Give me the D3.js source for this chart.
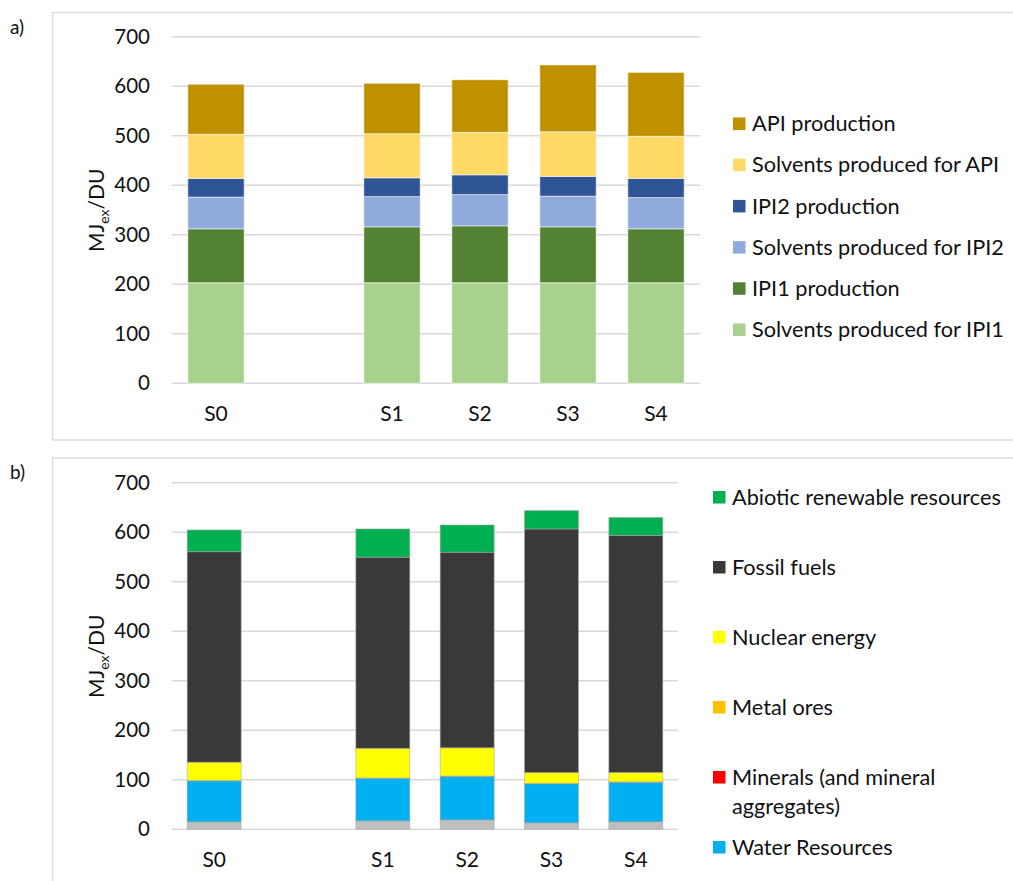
<!DOCTYPE html>
<html>
<head>
<meta charset="utf-8">
<script src="https://cdn.jsdelivr.net/npm/d3@7"></script>
<style>
  body { margin: 0; background: #fff; }
  svg { display: block; font-family: Lato, "Open Sans", sans-serif; }
</style>
</head>
<body>
<div id="chart"></div>
<script>
// scenarios, with an empty slot between S0 and S1
const scenarios = ["S0", "", "S1", "S2", "S3", "S4"];
const yTicks = [0, 100, 200, 300, 400, 500, 600, 700];

// panel a) stack order bottom -> top
const stageNames = [
  "Solvents produced for IPI1",
  "IPI1 production",
  "Solvents produced for IPI2",
  "IPI2 production",
  "Solvents produced for API",
  "API production"
];
const stageColors = ["#a9d18e", "#548235", "#8faadc", "#2f5597", "#ffd966", "#bf9000"];
const solventsIPI1 = [203, 0, 203, 203, 203, 203];
const prodIPI1     = [109, 0, 113, 115, 113, 109];
const solventsIPI2 = [64, 0, 61, 63, 62, 63];
const prodIPI2     = [38, 0, 38, 40, 40, 39];
const solventsAPI  = [89, 0, 89, 86, 90, 85];
const prodAPI      = [101, 0, 102, 106, 135, 129];

// panel b) stack order bottom -> top (grey bottom category has no visible legend entry)
const resourceNames = [
  "Land resources",
  "Water Resources",
  "Minerals (and mineral aggregates)",
  "Metal ores",
  "Nuclear energy",
  "Fossil fuels",
  "Abiotic renewable resources"
];
const resourceColors = ["#bfbfbf", "#00b0f0", "#ff0000", "#ffc000", "#ffff00", "#3b3838", "#00b050"];
const land      = [15, 0, 17, 19, 13, 15];
const water     = [83, 0, 86, 88, 79, 80];
const minerals  = [0.3, 0, 0.3, 0.3, 0.3, 0.4];
const metal     = [0.3, 0, 0.3, 0.3, 0.3, 0.4];
const nuclear   = [37, 0, 60, 57, 22, 19];
const fossil    = [425, 0, 386, 395, 492, 479];
const abiotic   = [44, 0, 57, 55, 37, 36];

// legend entries shown (top -> bottom)
const legendA = stageNames.slice().reverse();
const legendB = [
  ["Abiotic renewable resources"],
  ["Fossil fuels"],
  ["Nuclear energy"],
  ["Metal ores"],
  ["Minerals (and mineral", "aggregates)"],
  ["Water Resources"]
];

const width = 1013, height = 881;
const svg = d3.select("#chart").append("svg")
  .attr("width", width).attr("height", height);

const buildRows = (names, series) =>
  scenarios.map((s, i) => {
    const row = { scenario: s };
    names.forEach((n, k) => { row[n] = series[k][i]; });
    return row;
  });

const drawPanel = (opts) => {
  const g = svg.append("g");

  // panel frame
  g.append("rect")
    .attr("x", 52.5).attr("y", opts.frameTop)
    .attr("width", 1000).attr("height", opts.frameHeight)
    .attr("fill", "none").attr("stroke", "#d9d9d9").attr("stroke-width", 1.3);

  g.append("text")
    .attr("x", 10).attr("y", opts.frameTop + 21)
    .attr("font-size", 19).attr("fill", "#111")
    .text(opts.tag);

  const x = d3.scaleBand()
    .domain(scenarios)
    .range([172, opts.plotRight])
    .paddingInner(0.36)
    .paddingOuter(0.18);

  const y = d3.scaleLinear().domain([0, 700]).range([opts.y0, opts.y0 - 346.6]);

  // gridlines
  g.selectAll("line.grid")
    .data(yTicks)
    .join("line")
    .attr("class", "grid")
    .attr("x1", 172).attr("x2", opts.plotRight)
    .attr("y1", d => y(d)).attr("y2", d => y(d))
    .attr("stroke", "#d9d9d9").attr("stroke-width", 1.5);

  // y tick labels
  g.selectAll("text.ytick")
    .data(yTicks)
    .join("text")
    .attr("class", "ytick")
    .attr("x", 150).attr("y", d => y(d))
    .attr("dy", "0.35em")
    .attr("text-anchor", "end")
    .attr("font-size", 20.5).attr("fill", "#111")
    .text(d => d);

  // x labels
  g.selectAll("text.xtick")
    .data(scenarios.filter(s => s !== ""))
    .join("text")
    .attr("class", "xtick")
    .attr("x", d => x(d) + x.bandwidth() / 2)
    .attr("y", opts.y0 + 38)
    .attr("text-anchor", "middle")
    .attr("font-size", 21).attr("fill", "#111")
    .text(d => d);

  // y axis title MJex/DU
  const title = g.append("text")
    .attr("transform", `translate(104,${opts.y0 - 173}) rotate(-90)`)
    .attr("text-anchor", "middle")
    .attr("font-size", 21).attr("fill", "#111");
  title.append("tspan").text("MJ");
  title.append("tspan").attr("font-size", 14).attr("dy", 5).text("ex");
  title.append("tspan").attr("dy", -5).text("/DU");

  // stacked bars
  const stack = d3.stack().keys(opts.names);
  const layers = stack(opts.rows);
  const color = d3.scaleOrdinal(opts.names, opts.colors);

  g.selectAll("g.layer")
    .data(layers)
    .join("g")
    .attr("class", "layer")
    .attr("fill", d => color(d.key))
    .selectAll("rect")
    .data(d => d.filter(p => p.data.scenario !== ""))
    .join("rect")
    .attr("x", d => x(d.data.scenario))
    .attr("width", x.bandwidth())
    .attr("y", d => y(d[1]))
    .attr("height", d => Math.max(0, y(d[0]) - y(d[1])))
    .attr("stroke", opts.barStroke)
    .attr("stroke-width", 0.8)
    .attr("stroke-opacity", 0.7);

  // legend
  const leg = g.selectAll("g.legend")
    .data(opts.legend)
    .join("g")
    .attr("class", "legend")
    .attr("transform", (d, i) => `translate(${opts.legendX},${opts.legendTop + i * opts.legendStep})`);

  leg.append("rect")
    .attr("x", 0).attr("y", -6)
    .attr("width", 12.5).attr("height", 12.5)
    .attr("fill", d => color(Array.isArray(d) ? d.join(" ") : d));

  leg.append("text")
    .attr("x", 19)
    .attr("font-size", 21.7).attr("fill", "#111")
    .selectAll("tspan")
    .data(d => Array.isArray(d) ? d : [d])
    .join("tspan")
    .attr("x", 19)
    .attr("y", (d, i) => i * 29.5)
    .attr("dy", "0.35em")
    .text(d => d);
};

drawPanel({
  tag: "a)",
  frameTop: 12.5, frameHeight: 427.5,
  plotRight: 700, y0: 383.3,
  names: stageNames, colors: stageColors,
  rows: buildRows(stageNames, [solventsIPI1, prodIPI1, solventsIPI2, prodIPI2, solventsAPI, prodAPI]),
  barStroke: "#ffffff",
  legend: legendA, legendX: 733, legendTop: 123.5, legendStep: 41.2
});

drawPanel({
  tag: "b)",
  frameTop: 458, frameHeight: 500,
  plotRight: 678, y0: 829.3,
  names: resourceNames, colors: resourceColors,
  rows: buildRows(resourceNames, [land, water, minerals, metal, nuclear, fossil, abiotic]),
  barStroke: "#a6a6a6",
  legend: legendB, legendX: 713, legendTop: 497, legendStep: 70
});
</script>
</body>
</html>
